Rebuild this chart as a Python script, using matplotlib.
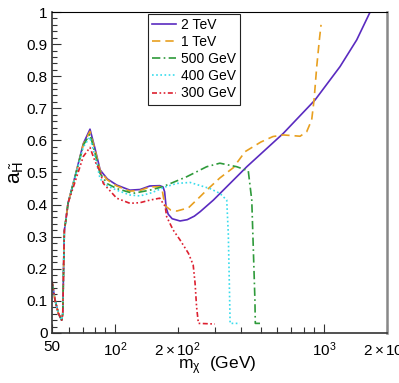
import matplotlib
matplotlib.use('Agg')
import matplotlib.pyplot as plt
from matplotlib.ticker import FixedLocator, MultipleLocator, FormatStrFormatter

plt.rcParams.update({
    'font.family': ['Liberation Sans', 'DejaVu Sans'],
    'mathtext.fontset': 'custom',
    'mathtext.rm': 'Liberation Sans',
    'mathtext.it': 'Liberation Sans',
    'mathtext.default': 'regular',
})

# ---- data ----
# shared low-mass part (all curves coincide below ~60 GeV)
x_low = [50, 51.7, 53.6, 55.6, 56.3, 56.8, 57.3, 58.2, 59.7]
y_low = [0.16, 0.103, 0.062, 0.04, 0.06, 0.2, 0.32, 0.35, 0.405]

x_2tev = [64.4, 70.6, 76, 80.3, 85, 92, 102, 118, 132, 147, 164, 170, 173, 176,
          180, 188, 205, 222, 240, 256, 296, 428, 640, 908, 1196, 1437, 1666]
y_2tev = [0.487, 0.59, 0.635, 0.575, 0.508, 0.48, 0.461, 0.445, 0.447, 0.458, 0.459,
          0.455, 0.44, 0.39, 0.37, 0.356, 0.349, 0.353, 0.364, 0.378, 0.414, 0.518,
          0.622, 0.726, 0.83, 0.913, 1.0]

x_1tev = [64.4, 70.6, 76, 80.3, 85, 92, 102, 118, 132, 147, 164, 168, 171, 175,
          185, 198, 225, 256, 275, 318, 369, 420, 500, 571, 640, 770, 828, 875,
          898, 925, 952, 970]
y_1tev = [0.485, 0.588, 0.628, 0.57, 0.505, 0.477, 0.458, 0.442, 0.444, 0.455, 0.456,
          0.45, 0.42, 0.395, 0.383, 0.38, 0.39, 0.425, 0.445, 0.483, 0.515, 0.565,
          0.595, 0.612, 0.617, 0.613, 0.627, 0.664, 0.726, 0.83, 0.913, 0.96]

x_500 = [64.4, 70.6, 76, 80.3, 85, 92, 102, 122, 147, 170, 221, 275, 318, 383,
         435, 452, 460, 468, 470, 495]
y_500 = [0.485, 0.585, 0.62, 0.56, 0.497, 0.465, 0.45, 0.435, 0.445, 0.456, 0.487,
         0.518, 0.529, 0.518, 0.505, 0.414, 0.259, 0.103, 0.03, 0.03]

x_400 = [64.4, 70.6, 76, 80.3, 85, 92, 102, 118, 132, 150, 174, 198, 229, 285,
         318, 343, 349, 353, 356, 397]
y_400 = [0.483, 0.58, 0.61, 0.55, 0.48, 0.458, 0.445, 0.43, 0.427, 0.437, 0.455,
         0.466, 0.469, 0.45, 0.435, 0.414, 0.31, 0.155, 0.03, 0.03]

x_300 = [64.4, 70.6, 76, 80.3, 85, 88, 102, 118, 132, 147, 164, 170, 174, 177,
         190, 205, 225, 237, 242, 246, 251, 301]
y_300 = [0.47, 0.55, 0.578, 0.535, 0.503, 0.466, 0.42, 0.404, 0.406, 0.414, 0.42,
         0.404, 0.395, 0.362, 0.321, 0.29, 0.248, 0.212, 0.155, 0.082, 0.03, 0.028]

series = [
    ('2 TeV', x_2tev, y_2tev, '#5a2bc0', '-'),
    ('1 TeV', x_1tev, y_1tev, '#e8a020', (0, (5, 3))),
    ('500 GeV', x_500, y_500, '#2e9a3a', (0, (5, 2, 1, 2))),
    ('400 GeV', x_400, y_400, '#38dcec', (0, (1, 1.5))),
    ('300 GeV', x_300, y_300, '#dd2030', (0, (3, 1.5, 1, 1.5, 1, 1.5))),
]

fig = plt.figure(figsize=(3.99, 3.83), dpi=100)
ax = fig.add_axes([52 / 399, 50 / 383, 334.7 / 399, 321 / 383])

for label, xs, ys, color, ls in series:
    ax.plot(x_low + xs, y_low + ys, color=color, linestyle=ls, linewidth=1.2,
            label=label)

ax.set_xscale('log')
ax.set_xlim(50, 2000)
ax.set_ylim(0, 1)

# x ticks
ax.xaxis.set_major_locator(FixedLocator([50, 100, 200, 1000, 2000]))
ax.set_xticklabels(['50', r'$10^{2}$', r'$2\times10^{2}$', r'$10^{3}$', r'$2\times10^{3}$'])
ax.xaxis.set_minor_locator(FixedLocator([60, 70, 80, 90, 300, 400, 500, 600, 700, 800, 900]))
ax.xaxis.set_minor_formatter(plt.NullFormatter())

# y ticks
ax.yaxis.set_major_locator(MultipleLocator(0.1))
ax.yaxis.set_minor_locator(MultipleLocator(0.02))
ax.yaxis.set_major_formatter(FormatStrFormatter('%g'))

ax.tick_params(which='both', direction='in', top=False, right=False, color='#333333')
ax.tick_params(axis='y', which='major', length=6.5, width=0.8, labelsize=11, pad=3)
ax.tick_params(axis='y', which='minor', length=3.5, width=0.8)
ax.tick_params(axis='x', which='major', length=6.5, width=0.8, labelsize=11, pad=5)
ax.tick_params(axis='x', which='minor', length=4, width=0.8)
for t in ax.xaxis.get_major_ticks():
    if t.get_loc() == 200:
        t.tick1line.set_markersize(4)

for s in ['left', 'bottom']:
    ax.spines[s].set_color('#333333')
    ax.spines[s].set_linewidth(1.2)
ax.spines['top'].set_linewidth(0.8)
ax.spines['right'].set_color('#888888')
ax.spines['right'].set_linewidth(1.8)

ax.set_xlabel(r'$m_{\chi}$  (GeV)', fontsize=12.5)
ax.xaxis.set_label_coords(0.494, -0.068)
ax.set_ylabel(r'$a_{\tilde{H}}$', fontsize=15)
ax.yaxis.set_label_coords(-0.078, 0.5)

leg = ax.legend(loc='upper left', bbox_to_anchor=(148 / 399, 1 - 14 / 383),
                bbox_transform=fig.transFigure, borderaxespad=0, fontsize=10,
                frameon=True, fancybox=False, framealpha=1, edgecolor='#222222',
                handlelength=1.7, handletextpad=0.35, labelspacing=0.22,
                borderpad=0.3)
leg.get_frame().set_linewidth(0.8)

fig.savefig('out.png', dpi=100)
